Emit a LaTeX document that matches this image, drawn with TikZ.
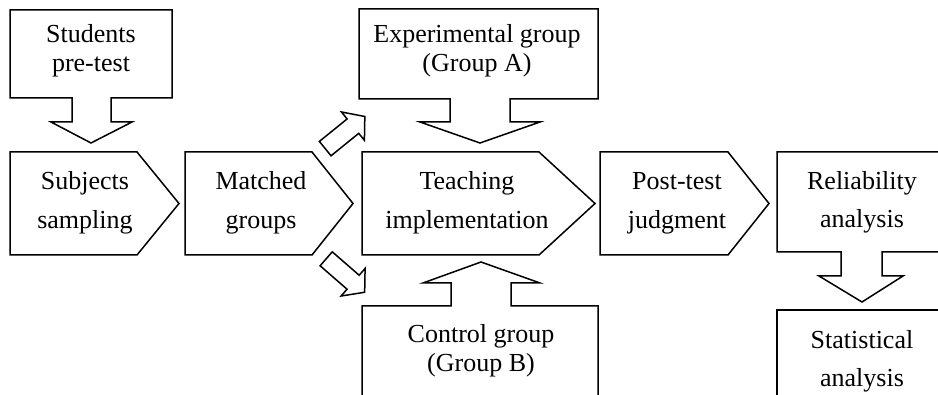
\documentclass[tikz,border=0pt]{standalone}
\usepackage{fontspec}
\setmainfont{Liberation Serif}
\usetikzlibrary{shapes.arrows}

\begin{document}
\begin{tikzpicture}[x=1pt,y=-1pt,
  blk/.style={draw,line width=1.5pt,line join=miter},
  txt/.style={font=\fontsize{26}{29}\selectfont,align=center,anchor=base,inner sep=0pt},
  wide/.style={font=\fontsize{26}{38.5}\selectfont},
  diag/.style={blk,single arrow,minimum height=51pt,text height=8.5pt,text depth=8.5pt,
    single arrow head extend=9pt,single arrow tip angle=100,inner sep=0pt}]
\useasboundingbox (0,0) rectangle (938,395);
\clip (0,0) rectangle (938,395);

% boxes with an arrow below
\draw[blk] (10,10) -- (172,10) -- (172,98) -- (111,98) -- (111,122) -- (132,122) -- (91,143)
  -- (51,122) -- (72,122) -- (72,98) -- (10,98) -- cycle;
\node[txt] (pre) at (91,72) {Students\\pre-test};
\draw[blk] (359,9) -- (598,9) -- (598,99) -- (510,99) -- (510,122) -- (540,122) -- (480,143)
  -- (420,122) -- (450,122) -- (450,99) -- (359,99) -- cycle;
\node[txt] (expA) at (477,72) {Experimental group\\(Group A)};

% main row
\draw[blk] (10,152) -- (137,152) -- (179,203.5) -- (137,255) -- (10,255) -- cycle;
\node[txt,wide] (samp) at (85,228.5) {Subjects\\sampling};
\draw[blk] (185,152) -- (312,152) -- (353,203.5) -- (312,255) -- (185,255) -- cycle;
\node[txt,wide] (match) at (261,228.5) {Matched\\groups};
\draw[blk] (362,152) -- (539,152) -- (595,203.5) -- (539,255) -- (362,255) -- cycle;
\node[txt,wide] (teach) at (467,228.5) {Teaching\\implementation};
\draw[blk] (600,152) -- (728,152) -- (769,203.5) -- (728,255) -- (600,255) -- cycle;
\node[txt,wide] (post) at (677,228.5) {Post-test\\judgment};
\draw[blk] (950,152) -- (777,152) -- (777,252) -- (841,252) -- (841,276) -- (819,276) -- (862,302)
  -- (903,276) -- (882,276) -- (882,252) -- (950,252);
\node[txt,wide] (rel) at (862,228) {Reliability\\analysis};

% split arrows
\node[diag,rotate=39] (toA) at (342,135) {};
\node[diag,rotate=-41] (toB) at (342.5,273) {};

% bottom
\draw[blk] (362,410) -- (362,306) -- (451,306) -- (451,283) -- (423,283) -- (481,262)
  -- (540,283) -- (511,283) -- (511,306) -- (598,306) -- (598,410);
\node[txt] (ctrlB) at (481,372) {Control group\\(Group B)};
\draw[blk] (950,310) -- (777,310) -- (777,410);
\node[txt,wide] (stat) at (862,387) {Statistical\\analysis};
\end{tikzpicture}
\end{document}
